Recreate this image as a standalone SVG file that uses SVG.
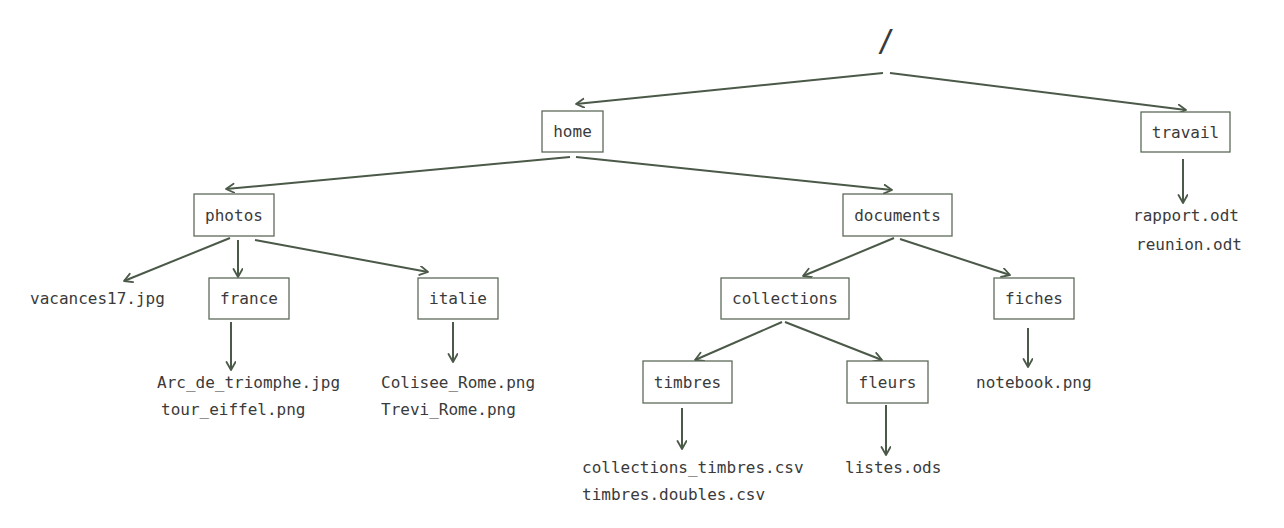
<svg xmlns="http://www.w3.org/2000/svg" width="1284" height="528" viewBox="0 0 1284 528">
<defs>
<marker id="ah" markerUnits="userSpaceOnUse" markerWidth="12" markerHeight="12" refX="9" refY="5" orient="auto">
<path d="M1,0.5 L9,5 L1,9.5" fill="none" stroke="#4b5948" stroke-width="1.8" stroke-linecap="round" stroke-linejoin="round"/>
</marker>
</defs>
<style>
.box{fill:#fff;stroke:#5e6b5b;stroke-width:1.3}
.t{font-family:"DejaVu Sans Mono","Liberation Mono",monospace;font-size:16px;fill:#3a3a3a;dominant-baseline:central}
.c{text-anchor:middle}
.e{stroke:#4b5948;stroke-width:2;fill:none;marker-end:url(#ah)}
</style>
<rect width="1284" height="528" fill="#fff"/>
<g id="connectors">
<line class="e" x1="883" y1="73" x2="576" y2="104"/>
<line class="e" x1="890" y1="73" x2="1186" y2="110"/>
<line class="e" x1="1183" y1="159" x2="1183" y2="203"/>
<line class="e" x1="570" y1="157" x2="226" y2="189"/>
<line class="e" x1="576" y1="157" x2="892" y2="190"/>
<line class="e" x1="230" y1="238" x2="124" y2="281"/>
<line class="e" x1="238" y1="240" x2="238" y2="277"/>
<line class="e" x1="255" y1="240" x2="428" y2="272"/>
<line class="e" x1="231" y1="322" x2="231" y2="370"/>
<line class="e" x1="453" y1="322" x2="453" y2="362"/>
<line class="e" x1="894" y1="238" x2="803" y2="276"/>
<line class="e" x1="900" y1="239" x2="1010" y2="275"/>
<line class="e" x1="1028" y1="328" x2="1028" y2="367"/>
<line class="e" x1="782" y1="322" x2="695" y2="360"/>
<line class="e" x1="785" y1="322" x2="882" y2="360"/>
<line class="e" x1="682" y1="408" x2="682" y2="449"/>
<line class="e" x1="886" y1="405" x2="886" y2="455"/>
</g>
<g id="root"><text class="t c" x="886" y="40" style="font-size:30px">/</text></g>
<g id="home"><rect class="box" x="542" y="111" width="61" height="41"/><text class="t c" x="572.5" y="131.5">home</text></g>
<g id="travail"><rect class="box" x="1141" y="112" width="89" height="40"/><text class="t c" x="1185.5" y="132">travail</text></g>
<g id="travail-files"><text class="t" x="1133" y="215">rapport.odt</text><text class="t" x="1136" y="244">reunion.odt</text></g>
<g id="photos"><rect class="box" x="194" y="194" width="80" height="42"/><text class="t c" x="234" y="215">photos</text></g>
<g id="documents"><rect class="box" x="843" y="194" width="109" height="42"/><text class="t c" x="897.5" y="215">documents</text></g>
<g id="vacances"><text class="t" x="30" y="298">vacances17.jpg</text></g>
<g id="france"><rect class="box" x="209" y="278" width="80" height="41"/><text class="t c" x="249" y="298.5">france</text></g>
<g id="italie"><rect class="box" x="418" y="278" width="80" height="41"/><text class="t c" x="458" y="298.5">italie</text></g>
<g id="collections"><rect class="box" x="721" y="278" width="128" height="41"/><text class="t c" x="785" y="298.5">collections</text></g>
<g id="fiches"><rect class="box" x="994" y="278" width="80" height="41"/><text class="t c" x="1034" y="298.5">fiches</text></g>
<g id="france-files"><text class="t" x="157" y="382">Arc_de_triomphe.jpg</text><text class="t" x="161" y="409">tour_eiffel.png</text></g>
<g id="italie-files"><text class="t" x="381" y="382">Colisee_Rome.png</text><text class="t" x="381" y="409">Trevi_Rome.png</text></g>
<g id="fiches-files"><text class="t" x="976" y="382">notebook.png</text></g>
<g id="timbres"><rect class="box" x="643" y="361" width="89" height="42"/><text class="t c" x="687.5" y="382">timbres</text></g>
<g id="fleurs"><rect class="box" x="847" y="361" width="81" height="42"/><text class="t c" x="887.5" y="382">fleurs</text></g>
<g id="timbres-files"><text class="t" x="582" y="467">collections_timbres.csv</text><text class="t" x="582" y="494">timbres.doubles.csv</text></g>
<g id="fleurs-files"><text class="t" x="845" y="467">listes.ods</text></g>
</svg>
